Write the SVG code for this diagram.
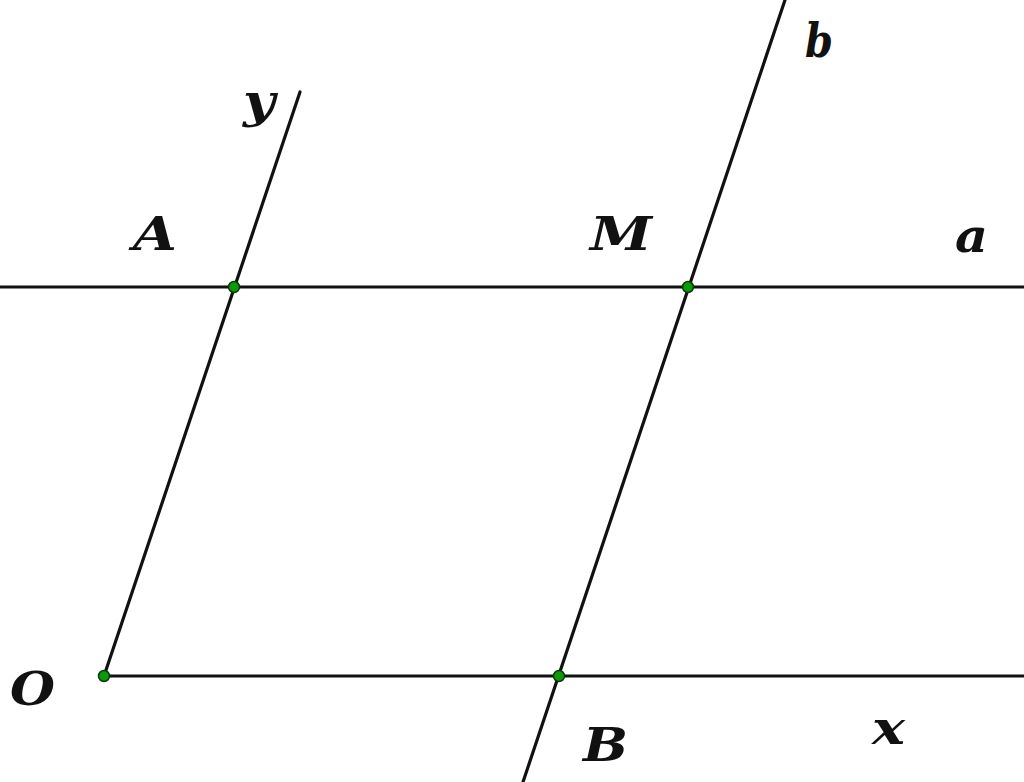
<svg xmlns="http://www.w3.org/2000/svg" width="1024" height="782" viewBox="0 0 1024 782">
<style>
.ln{stroke:#111;stroke-width:3.2;fill:none;stroke-linecap:round}
.pt{fill:#0a9a0a;stroke:#0b3b0b;stroke-width:1.5}
.lb{font-family:"DejaVu Serif","Liberation Serif",serif;font-style:italic;font-weight:bold;font-size:46px;fill:#111}
</style>
<rect width="1024" height="782" fill="#fff"/>
<g id="connectors">
<line class="ln" x1="0" y1="287" x2="1024" y2="287"/>
<line class="ln" x1="104" y1="676" x2="1024" y2="676"/>
<line class="ln" x1="104" y1="676" x2="300" y2="92"/>
<line class="ln" x1="785" y1="0" x2="523" y2="782"/>
</g>
<g id="O"><circle class="pt" cx="104" cy="676" r="5.5"/><text class="lb" x="10" y="705" textLength="45" lengthAdjust="spacingAndGlyphs">O</text></g>
<g id="A"><circle class="pt" cx="234" cy="287" r="5.5"/><text class="lb" x="133" y="250" textLength="44" lengthAdjust="spacingAndGlyphs">A</text></g>
<g id="M"><circle class="pt" cx="688" cy="287" r="5.5"/><text class="lb" x="590" y="250" textLength="62" lengthAdjust="spacingAndGlyphs">M</text></g>
<g id="B"><circle class="pt" cx="559" cy="676" r="5.5"/><text class="lb" x="583" y="761" textLength="45" lengthAdjust="spacingAndGlyphs">B</text></g>
<g id="y"><text class="lb" x="243" y="117" textLength="32" lengthAdjust="spacingAndGlyphs">y</text></g>
<g id="b"><text class="lb" x="805" y="57" textLength="28" lengthAdjust="spacingAndGlyphs">b</text></g>
<g id="a"><text class="lb" x="955" y="252" textLength="33" lengthAdjust="spacingAndGlyphs">a</text></g>
<g id="x"><text class="lb" x="872" y="744" textLength="33" lengthAdjust="spacingAndGlyphs">x</text></g>
</svg>
